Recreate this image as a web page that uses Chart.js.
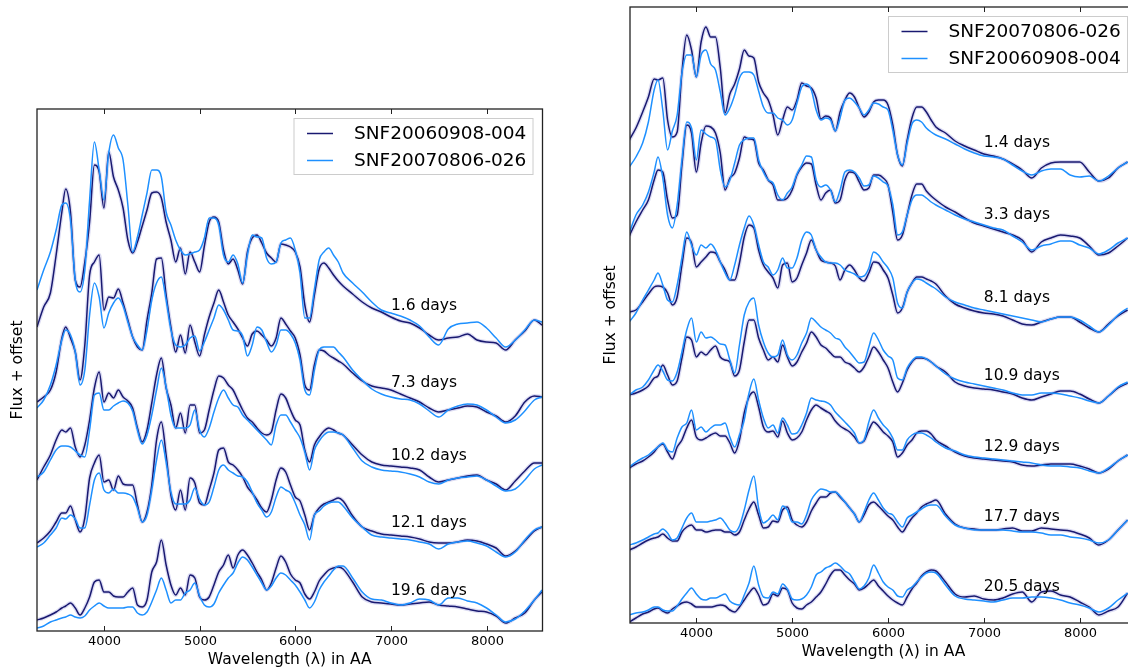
<!DOCTYPE html>
<html>
<head>
<meta charset="utf-8">
<script src="https://cdn.jsdelivr.net/npm/chart.js@4.4.1/dist/chart.umd.min.js"></script>
<style>
  html, body { margin: 0; padding: 0; background: #fff; overflow: hidden; width: 1128px; height: 669px; }
  #left { position: absolute; left: 0; top: 0; }
  #right { position: absolute; left: 564px; top: 0; }
</style>
</head>
<body>
<canvas id="left" width="564" height="669"></canvas>
<canvas id="right" width="580" height="669"></canvas>
<script>
// wavelength grid (AA), shared by every spectrum
const WAVELENGTH = [3300,3370,3440,3500,3560,3600,3650,3700,3750,3800,3850,3900,3950,4000,4050,4100,4150,4200,4250,4300,
  4350,4400,4450,4500,4550,4600,4650,4700,4750,4800,4850,4900,4950,5000,5050,5100,5150,5200,5250,5300,
  5350,5400,5450,5500,5550,5600,5650,5700,5750,5800,5850,5900,5950,6000,6050,6100,6150,6200,6250,6300,
  6350,6400,6450,6500,6600,6700,6800,6900,7000,7100,7200,7300,7400,7500,7600,7700,7800,7900,8000,8100,
  8200,8300,8400,8500,8580];
const TICK_WAVELENGTHS = [4000, 5000, 6000, 7000, 8000];

// ---- left panel: flux + offset (arbitrary units) ----
const leftNames = ['SNF20060908-004', 'SNF20070806-026'];
const leftEpochs = ['1.6 days', '7.3 days', '10.2 days', '12.1 days', '19.6 days'];
const leftEpochY = [325, 248, 175, 108, 40];

const left004 = [
  [304,324,338,376,419,442,419,351,344,369, 409,466,459,423,479,454,441,423,391,378, 389,405,421,438,439,433,409,391,369,383,
   357,379,369,359,385,409,414,409,381,367, 372,361,347,379,393,396,388,378,373,369, 387,386,384,379,364,326,309,336,362,368,
   363,356,350,345, 337,329,323,319,314,310,308,303,296,291,293,294,297,291,289,288,281,291,300,311, 306],
  [229,234,241,259,293,304,293,279,251,286, 356,369,376,321,334,333,342,328,311,294, 284,281,311,338,372,373,336,304,279,296,
   278,306,289,275,296,314,328,341,329,316, 309,302,293,285,297,300,296,291,285,293, 313,307,300,293,276,246,241,266,281,280,
   276,273,270,267, 258,250,245,243,241,237,233,229,223,219,221,223,225,224,219,215,209,215,229,235, 234],
  [151,164,176,191,201,199,203,184,174,186, 211,243,259,229,238,233,241,234,230,223, 203,189,201,228,256,273,243,226,203,218,
   198,226,226,198,201,221,241,255,253,246, 241,231,221,213,209,203,198,196,199,221, 237,233,221,211,206,181,169,186,194,200,
   203,201,198,196, 186,176,169,166,165,164,163,161,154,149,151,153,155,156,151,147,141,150,160,168, 168],
  [88,93,100,109,118,118,125,111,99,113, 153,168,176,149,151,141,155,147,146,146, 126,109,119,146,191,209,176,136,121,141,
   121,153,148,128,126,141,158,181,183,169, 166,161,154,144,138,131,123,119,131,151, 163,159,146,134,130,116,101,116,123,127,
   129,131,133,130, 115,104,100,97,96,95,94,92,89,88,88,89,91,90,87,83,75,80,90,100, 104],
  [11,13,16,19,23,25,28,23,16,23, 34,49,51,39,39,35,34,34,39,43, 26,24,31,59,69,91,66,46,36,43,
   36,56,53,34,31,34,46,59,66,76, 63,76,81,76,68,59,51,41,48,63, 75,69,57,51,48,37,32,39,50,56,
   61,63,64,62, 49,34,29,28,27,26,27,28,29,26,25,24,22,20,19,15,8,13,18,31, 39]
];

const left026 = [
  [341,361,379,401,426,428,411,351,339,361, 431,489,461,431,478,496,483,471,426,379, 394,416,438,461,461,454,419,406,391,381,
   376,377,379,381,393,413,413,406,376,369, 376,367,348,376,396,394,393,373,367,369, 388,391,393,381,358,313,313,341,371,379,
   383,376,369,358, 348,339,329,321,318,315,311,305,294,286,302,307,308,309,303,293,284,291,301,311, 309],
  [223,231,246,266,291,301,296,279,246,261, 316,348,334,303,318,328,333,325,309,294, 286,281,301,331,348,354,331,301,286,284,
   286,293,295,280,289,301,313,326,321,311, 301,300,295,275,286,304,301,289,279,286, 301,301,297,288,271,241,236,261,281,284,
   284,284,279,274, 261,251,242,237,234,232,231,227,220,214,221,225,227,226,221,214,208,211,220,231, 234],
  [154,159,171,181,185,185,184,180,176,174, 201,236,238,221,221,225,228,230,228,220, 201,187,196,216,241,263,244,216,203,203,
   203,206,221,201,194,203,219,233,241,233, 226,224,216,211,206,201,196,191,186,206, 216,216,209,201,193,179,161,181,190,196,
   199,199,198,196, 183,170,164,161,160,159,157,154,149,147,151,153,154,155,151,145,140,142,151,162, 166],
  [84,88,96,103,113,112,116,112,103,103, 126,151,158,141,138,142,138,138,137,134, 123,109,116,141,171,191,169,139,127,127,
   127,131,143,132,126,129,144,161,166,161, 158,155,154,149,139,128,121,114,119,134, 144,141,138,128,116,106,91,116,120,125,
   128,129,129,125, 113,104,96,94,93,92,91,89,87,82,87,89,90,88,85,79,74,79,91,101, 104],
  [3,5,9,11,13,14,16,14,13,15, 21,25,28,25,23,23,23,23,24,24, 18,16,19,29,41,53,41,28,31,31,
   38,41,48,35,26,24,27,38,46,53, 58,68,74,71,64,56,48,41,45,53, 58,56,51,46,39,31,23,29,41,49,
   55,61,65,65, 53,39,32,31,28,26,28,32,31,26,33,33,30,28,23,16,9,12,20,31, 41]
];

// ---- right panel ----
const rightNames = ['SNF20070806-026', 'SNF20060908-004'];
const rightEpochs = ['1.4 days', '3.3 days', '8.1 days', '10.9 days', '12.9 days', '17.7 days', '20.5 days'];
const rightEpochY = [480, 408, 325, 247, 176, 106, 36];

const right026 = [
  [483,495,511,526,544,543,545,503,486,491, 551,588,573,546,581,596,586,586,555,510, 529,539,554,573,567,565,541,530,523,508,
   488,503,516,513,523,540,537,535,525,504, 507,505,492,511,523,530,526,515,506,511, 521,523,523,518,498,468,457,483,505,516,
   516,511,503,496, 490,482,477,473,469,467,464,459,453,445,455,460,461,461,461,451,442,445,455,461],
  [387,401,413,423,443,453,451,423,405,408, 458,498,490,451,480,497,496,490,470,433, 445,450,465,486,484,483,460,453,443,438,
   423,423,425,433,448,456,460,459,438,423, 430,433,420,423,443,451,450,441,433,435, 448,448,445,438,411,383,388,408,428,439,
   439,432,427,423, 416,411,405,400,397,394,391,388,383,371,381,385,388,387,385,377,368,370,377,385],
  [311,313,321,329,336,337,336,330,318,326, 358,385,380,356,361,366,371,370,361,353, 343,343,360,386,398,395,373,358,351,345,
   335,358,360,341,345,358,370,383,373,363, 361,360,357,343,353,358,353,345,342,350, 361,360,353,345,328,310,315,331,340,346,
   346,344,342,339, 327,319,315,312,310,309,307,303,299,298,301,304,306,306,301,295,291,299,307,313],
  [228,230,233,237,245,247,258,248,238,242, 265,286,283,266,271,268,273,277,266,263, 261,247,253,281,303,303,285,273,263,266,
   261,278,266,257,261,271,280,291,286,278, 275,270,266,266,261,259,255,251,256,266, 276,271,263,255,241,231,240,253,261,265,
   265,264,261,257, 251,241,237,235,234,233,231,229,225,223,226,229,232,232,229,224,220,227,235,240],
  [155,159,162,166,171,176,179,171,164,176, 183,195,203,186,183,185,188,190,187,187, 180,170,183,210,226,231,216,196,191,192,
   186,202,190,183,185,191,203,213,218,215, 212,209,202,197,194,191,186,180,182,193, 201,197,191,187,181,166,170,178,183,190,
   192,192,189,183, 177,171,167,165,164,163,162,161,158,157,158,159,159,159,157,154,150,154,162,168],
  [73,76,80,83,85,86,89,85,82,82, 91,96,98,93,93,91,92,93,93,91, 91,88,91,103,114,121,108,95,96,102,
   101,113,116,103,98,96,101,112,120,126, 126,130,131,126,121,115,109,101,108,118, 121,117,112,107,103,96,91,98,105,110,
   116,119,121,123, 109,99,95,94,93,93,94,95,92,92,95,94,93,92,89,85,78,83,93,103],
  [1,5,9,11,14,15,12,10,14,17, 20,21,19,16,16,16,16,17,18,17, 13,11,16,23,30,35,28,18,20,29,
   27,35,33,20,15,14,18,21,26,31, 39,48,53,53,48,43,39,33,35,39, 43,37,32,27,23,20,18,26,34,40,
   47,51,53,52, 41,29,26,27,24,23,25,29,31,21,31,32,28,26,21,16,8,12,16,30]
];

const right004 = [
  [456,466,480,501,533,543,513,473,492,508, 550,568,568,546,568,573,559,553,531,508, 515,528,545,551,551,548,532,516,510,510,
   505,503,498,503,520,536,539,533,513,503, 505,503,492,505,523,525,521,515,508,513, 520,519,516,513,493,468,458,480,499,503,
   501,495,491,488, 484,479,474,470,467,466,464,458,452,448,452,454,454,448,446,447,442,447,455,461],
  [390,408,418,431,451,466,445,408,395,418, 463,501,495,463,493,489,486,483,453,436, 443,460,478,483,485,485,463,451,443,440,
   428,423,430,436,449,458,467,466,443,436, 438,433,421,433,451,453,451,445,437,438, 447,445,441,437,418,388,391,408,423,428,
   428,425,421,418, 413,408,404,401,398,395,393,387,381,373,377,379,382,382,378,375,369,373,380,385],
  [301,310,323,333,343,350,338,323,321,338, 365,391,378,368,378,375,379,373,361,350, 343,358,378,395,407,398,378,361,356,348,
   353,365,355,355,365,383,391,388,373,366, 361,360,360,358,353,351,349,346,347,355, 371,368,361,355,345,320,315,331,340,344,
   343,340,337,334, 326,321,318,315,313,311,309,307,305,303,301,304,306,306,303,297,291,298,308,315],
  [228,233,236,243,253,258,252,243,242,251, 271,293,305,281,291,285,286,283,279,278, 263,250,278,308,321,325,298,281,270,266,
   268,283,268,263,268,280,290,305,301,296, 293,290,285,283,276,271,265,260,261,276, 290,283,273,267,263,245,243,255,262,266,
   266,264,261,257, 249,244,241,239,237,235,233,230,228,228,230,230,229,227,225,222,220,227,236,241],
  [156,161,165,168,173,176,180,173,171,185, 196,200,213,193,196,191,195,198,198,200, 186,176,188,203,230,244,223,205,195,198,
   190,205,198,189,190,198,210,225,223,222, 221,218,211,206,201,196,190,180,183,201, 213,205,198,193,185,173,173,183,188,190,
   190,188,185,181, 175,172,168,166,165,164,163,162,161,160,158,157,157,156,155,152,150,155,162,168],
  [78,80,83,86,89,90,94,90,83,85, 95,105,110,101,101,101,102,103,105,100, 93,91,97,113,133,147,115,100,103,108,
   103,117,113,101,101,99,108,123,130,134, 133,131,131,127,121,115,109,101,111,123, 130,123,115,110,108,101,96,105,108,111,
   114,117,118,118, 107,98,95,93,93,93,93,92,91,91,90,88,88,86,85,83,80,83,93,103],
  [8,10,11,13,16,16,13,12,12,17, 24,30,35,29,24,23,25,25,27,29, 22,19,18,28,40,57,38,26,25,31,
   29,39,34,24,23,24,28,36,48,51, 55,57,60,57,52,49,41,34,37,45, 58,50,41,36,33,27,26,33,36,41,
   46,50,51,50, 38,27,24,23,22,21,23,25,25,26,26,25,23,20,18,15,11,15,23,30]
];

const DARK = '#191970';
const LIGHT = '#1e90ff';
const FONT = '"DejaVu Sans", sans-serif';

// frame round the axes, inward ticks with labels, epoch labels, legend box
const decorPlugin = {
  id: 'decor',
  afterDraw(chart, args, opts) {
    const { ctx, chartArea: a, scales } = chart;
    const x = scales.x, y = scales.y;
    ctx.save();
    ctx.strokeStyle = '#222';
    ctx.lineWidth = 1.3;
    ctx.strokeRect(a.left, a.top, a.right - a.left, a.bottom - a.top);
    ctx.lineWidth = 1;
    ctx.fillStyle = '#000';
    ctx.font = '13px ' + FONT;
    ctx.textAlign = 'center';
    ctx.textBaseline = 'middle';
    TICK_WAVELENGTHS.forEach(v => {
      const px = Math.round(x.getPixelForValue(v)) + 0.5;
      ctx.beginPath();
      ctx.moveTo(px, a.top); ctx.lineTo(px, a.top + 5);
      ctx.moveTo(px, a.bottom); ctx.lineTo(px, a.bottom - 5);
      ctx.stroke();
      ctx.fillText(String(v), px, a.bottom + opts.tickGap);
    });

    // epoch labels
    ctx.font = '15.5px ' + FONT;
    ctx.textAlign = 'left';
    opts.epochs.forEach((txt, i) => {
      ctx.fillText(txt, x.getPixelForValue(7000), y.getPixelForValue(opts.epochY[i]));
    });

    // legend
    const w = 239, h = 56;
    const bx = a.right - 9.5 - w, by = a.top + 9.5;
    ctx.fillStyle = '#fff';
    ctx.fillRect(bx, by, w, h);
    ctx.strokeStyle = '#cccccc';
    ctx.lineWidth = 1;
    ctx.strokeRect(bx, by, w, h);
    ctx.font = '18.5px ' + FONT;
    [DARK, LIGHT].forEach((c, i) => {
      const ly = by + 15 + i * 27;
      ctx.strokeStyle = c;
      ctx.lineWidth = 1.5;
      ctx.beginPath();
      ctx.moveTo(bx + 13, ly); ctx.lineTo(bx + 39, ly);
      ctx.stroke();
      ctx.fillStyle = '#000';
      ctx.fillText(opts.names[i], bx + 60, ly + 1);
    });
    ctx.restore();
  }
};

function makeChart(id, p) {
  const datasets = [];
  const toPoints = vals => vals.map((v, i) => ({ x: WAVELENGTH[i], y: v }));
  p.dark.forEach(vals => {
    const pts = toPoints(vals);
    // faint error band round the dark spectra
    datasets.push({ data: pts, borderColor: 'rgba(140,140,215,0.30)', borderWidth: 4, order: 3 });
    datasets.push({ data: pts, borderColor: DARK, borderWidth: 1.5, order: 2 });
  });
  p.light.forEach(vals => {
    datasets.push({ data: toPoints(vals), borderColor: LIGHT, borderWidth: 1.5, order: 1 });
  });

  return new Chart(document.getElementById(id), {
    type: 'line',
    data: { datasets },
    options: {
      responsive: false,
      animation: false,
      events: [],
      datasets: { line: { clip: 0 } },
      elements: {
        point: { radius: 0 },
        line: { cubicInterpolationMode: 'monotone', borderJoinStyle: 'round', fill: false }
      },
      layout: { padding: { left: 0, right: p.padRight, top: p.padTop, bottom: 0 } },
      plugins: {
        legend: { display: false },
        tooltip: { enabled: false },
        decor: { epochs: p.epochs, epochY: p.epochY, names: p.names, tickGap: p.tickGap }
      },
      scales: {
        x: {
          type: 'linear', min: p.xMin, max: p.xMax,
          afterBuildTicks: s => { s.ticks = TICK_WAVELENGTHS.map(v => ({ value: v })); },
          afterFit: s => { s.height = p.xHeight; },
          grid: { display: false }, border: { display: false },
          ticks: { display: false },
          title: { display: true, text: 'Wavelength (λ) in AA', color: '#000',
                   font: { family: FONT, size: 15.5 }, padding: { top: 0, bottom: p.xTitlePad } }
        },
        y: {
          min: 0, max: p.yMax,
          afterFit: s => { s.width = p.yWidth; },
          grid: { display: false }, border: { display: false },
          ticks: { display: false },
          title: { display: true, text: 'Flux + offset', color: '#000',
                   font: { family: FONT, size: 15.5 }, padding: { top: p.yTitlePad, bottom: 0 } }
        }
      }
    },
    plugins: [decorPlugin]
  });
}

makeChart('left', {
  dark: left004, light: left026, names: leftNames, epochs: leftEpochs, epochY: leftEpochY,
  xMin: 3300, xMax: 8585, yMax: 522,
  padTop: 109, padRight: 21.5, xHeight: 38, yWidth: 37,
  tickGap: 11, xTitlePad: 0, yTitlePad: 8.2
});

makeChart('right', {
  dark: right026, light: right004, names: rightNames, epochs: rightEpochs, epochY: rightEpochY,
  xMin: 3308, xMax: 8598, yMax: 616,
  padTop: 7, padRight: 7, xHeight: 46, yWidth: 66,
  tickGap: 10.5, xTitlePad: 7.5, yTitlePad: 37.7
});
</script>
</body>
</html>
